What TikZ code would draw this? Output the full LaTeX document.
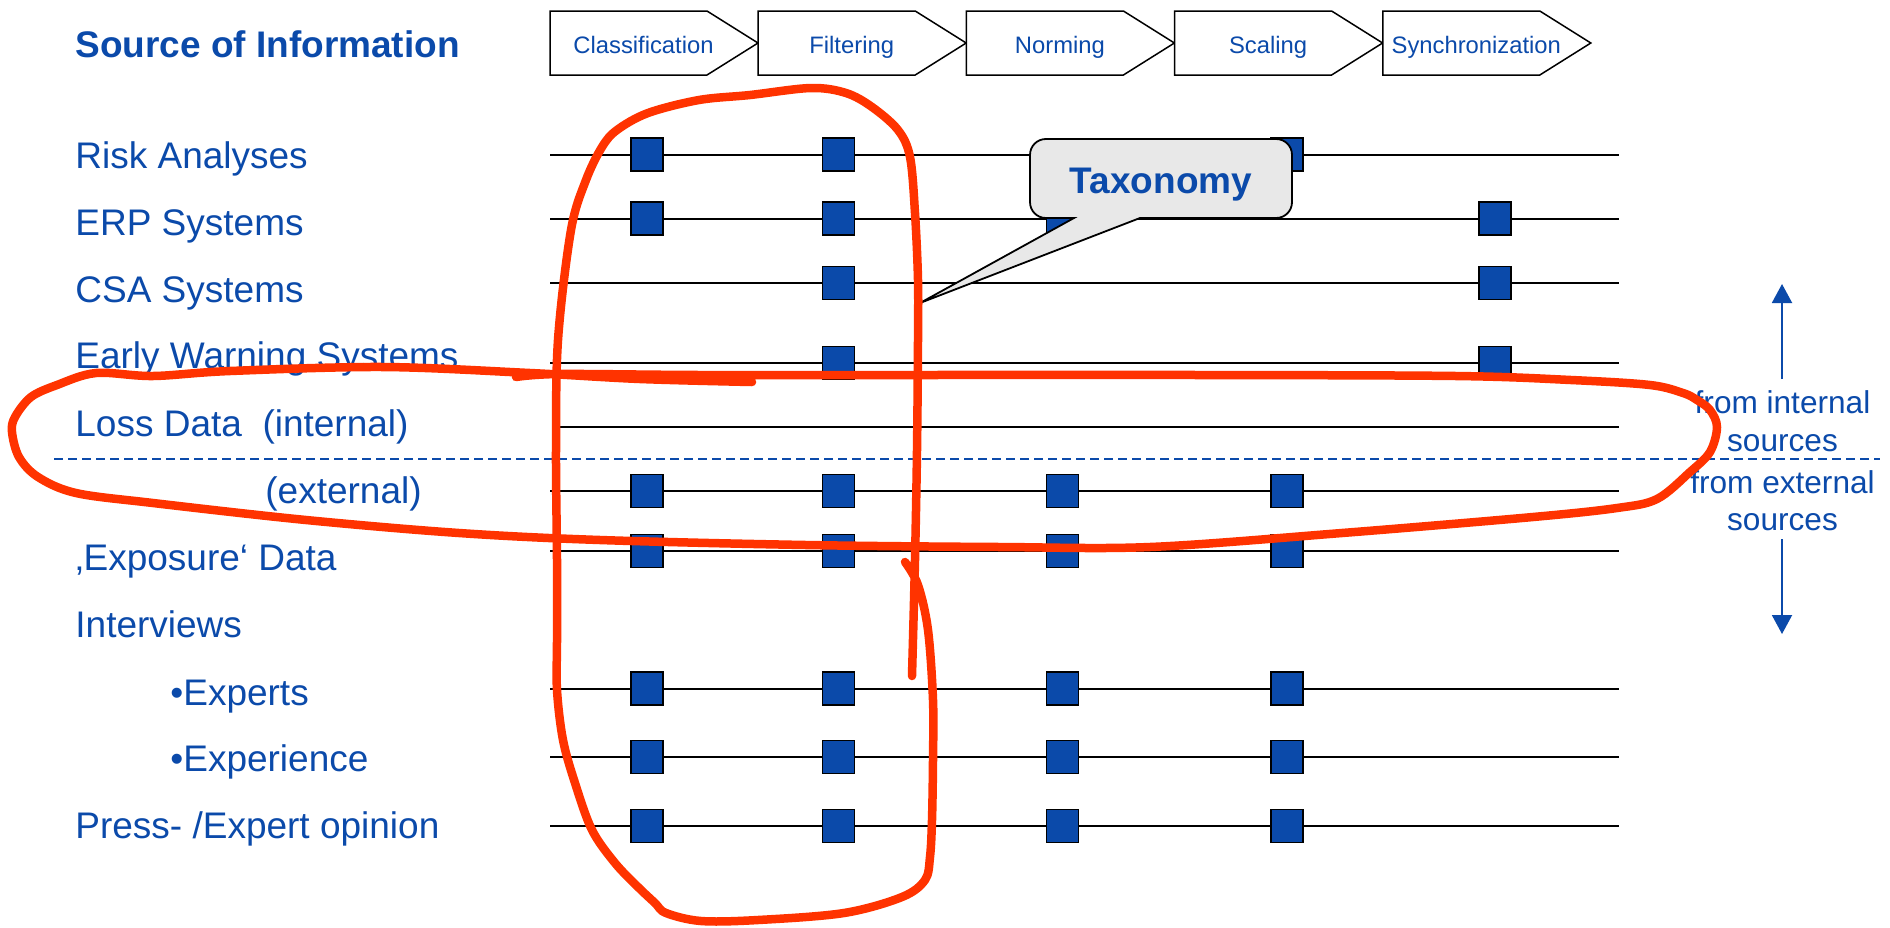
\documentclass[tikz,border=0pt]{standalone}
\usepackage{fontspec}
\setmainfont{Liberation Sans}
\usetikzlibrary{arrows.meta}
\definecolor{infoblue}{RGB}{11,74,170}
\definecolor{markred}{RGB}{255,51,0}
\definecolor{bubblegray}{RGB}{232,232,232}

\begin{document}
\begin{tikzpicture}[x=0.5pt,y=-0.5pt,
  rowlabel/.style={anchor=base west, inner sep=0, text=infoblue, font=\fontsize{18.5}{22}\selectfont},
  titlelabel/.style={anchor=base west, inner sep=0, text=infoblue, font=\bfseries\fontsize{18.5}{22}\selectfont},
  steplabel/.style={anchor=base, inner sep=0, text=infoblue, font=\fontsize{11.9}{14}\selectfont},
  stepbox/.style={draw=black, fill=white, line width=0.75pt},
  rowline/.style={draw=black, line width=1pt},
  hitbox/.style={draw=black, fill=infoblue, line width=0.7pt, minimum width=16pt, minimum height=16.5pt, inner sep=0},
  pen/.style={draw=markred, line width=4.25pt, line cap=round, line join=round},
  sidenote/.style={anchor=base, inner sep=0, text=infoblue, font=\fontsize{15.8}{19}\selectfont},
  sidearrow/.style={draw=infoblue, line width=1pt, -{Triangle[width=10pt,length=9.5pt]}},
  divider/.style={draw=infoblue, line width=0.75pt, dash pattern=on 4.5pt off 2.5pt},
]
\useasboundingbox (0,0) rectangle (1890,927);

% heading
\node[titlelabel] (title) at (75,57.3) {Source of Information};

% process chevrons
\foreach \i/\nm/\txt in {0/cls/Classification, 1/flt/Filtering, 2/nrm/Norming, 3/scl/Scaling, 4/syn/Synchronization} {
  \pgfmathsetmacro\L{550+208.2*\i}
  \draw[stepbox] (\L,11) -- ({\L+157},11) -- ({\L+208},43) -- ({\L+157},75) -- (\L,75) -- cycle;
  \node[steplabel] (\nm) at ({\L+93.5},53) {\txt};
}

% source labels
\node[rowlabel] (lrisk) at (75,168.3) {Risk Analyses};
\node[rowlabel] (lerp) at (75,235.3) {ERP Systems};
\node[rowlabel] (lcsa) at (75,302.3) {CSA Systems};
\node[rowlabel] (lews) at (75,368.3) {Early Warning Systems};
\node[rowlabel] (lloss) at (75,436.7) {Loss Data\ \ (internal)};
\node[rowlabel] (lext) at (265,503.3) {(external)};
\node[rowlabel] (lexpo) at (75,570.7) {‚Exposure‘ Data};
\node[rowlabel] (lint) at (75,637.3) {Interviews};
\node[rowlabel] (lexperts) at (170,705) {•Experts};
\node[rowlabel] (lexperience) at (170,771.7) {•Experience};
\node[rowlabel] (lpress) at (75,838.3) {Press- /Expert opinion};

% row lines
\foreach \r/\y/\xs in {risk/154.5/550, erp/218.5/550, csa/282.7/550, ews/363/550, lossi/427/557,
                       losse/491/550, expo/551/550, experts/688.5/550, experience/757/550, press/825.7/550} {
  \coordinate (\r-a) at (\xs,\y);
  \coordinate (\r-b) at (1619,\y);
  \draw[rowline] (\r-a) -- (\r-b);
}

% internal / external divider
\coordinate (divL) at (54,459);
\coordinate (divR) at (1880,459);
\draw[divider] (divL) -- (divR);

% markers on the rows
\foreach \r/\y/\cols in {risk/154.5/{1,2,4}, erp/218.5/{1,2,3,5}, csa/282.7/{2,5}, ews/363/{2,5},
                         losse/491/{1,2,3,4}, expo/551/{1,2,3,4}, experts/688.5/{1,2,3,4},
                         experience/757/{1,2,3,4}, press/825.7/{1,2,3,4}} {
  \foreach \c in \cols {
    \pgfmathsetmacro\cx{{647,838.7,1062.6,1287,1495}[\c-1]}
    \node[hitbox] (sq-\r-\c) at (\cx,\y) {};
  }
}

% callout
\filldraw[fill=bubblegray, draw=black, line width=0.9pt]
  (1074,218) -- (1046,218) .. controls (1037,218) and (1030,211) .. (1030,202)
  -- (1030,155) .. controls (1030,146) and (1037,139) .. (1046,139)
  -- (1276,139) .. controls (1285,139) and (1292,146) .. (1292,155)
  -- (1292,202) .. controls (1292,211) and (1285,218) .. (1276,218)
  -- (1140,218) -- (920,303) -- cycle;
\node[titlelabel, anchor=base] (taxonomy) at (1161,193.3) {Taxonomy};

% side notes and arrows
\node[sidenote] (fi1) at (1782.5,413.3) {from internal};
\node[sidenote] (fi2) at (1782.5,451.7) {sources};
\node[sidenote] (fe1) at (1782.5,493.3) {from external};
\node[sidenote] (fe2) at (1782.5,530.7) {sources};
\coordinate (upfoot) at (1782,379);
\coordinate (uptip) at (1782,284);
\coordinate (downfoot) at (1782,539);
\coordinate (downtip) at (1782,634);
\draw[sidearrow] (upfoot) -- (uptip);
\draw[sidearrow] (downfoot) -- (downtip);

% hand-drawn loop around the loss-data rows
\draw[pen] plot[smooth, tension=0.55] coordinates {
  (752,382) (640,379) (530,373) (383,367) (230,371) (153,376) (96,373) (57,385) (31,397)
  (15,417) (12,432) (19,457) (38,477) (76,493) (153,503) (306,520) (459,533) (600,540)
  (806,545) (1000,547) (1150,547) (1342,533) (1533,517) (1617,508) (1657,499) (1690,472)
  (1710,452) (1717,427) (1710,410) (1697,400) (1683,393) (1650,385) (1571,380) (1456,376)
  (1200,375) (900,375) (700,375) (560,374) (516,377)};

% hand-drawn loop around the first two steps
\draw[pen] plot[smooth, tension=0.55] coordinates {
  (905,562) (918,585) (928,630) (933,700) (933,760) (932,820) (930,857) (925,880) (902,897)
  (844,913) (758,920) (701,921) (666,913) (655,903) (638,887) (615,863) (592,830) (575,783)
  (563,740) (557,690) (557,640) (557,560) (556,450) (558,340) (571,230) (586,180) (602,147)
  (617,130) (648,113) (699,100) (750,95) (811,88) (846,93) (872,107) (898,130) (910,157)
  (915,213) (918,280) (918,340) (917,450) (915,560) (912,676)};
\end{tikzpicture}
\end{document}
